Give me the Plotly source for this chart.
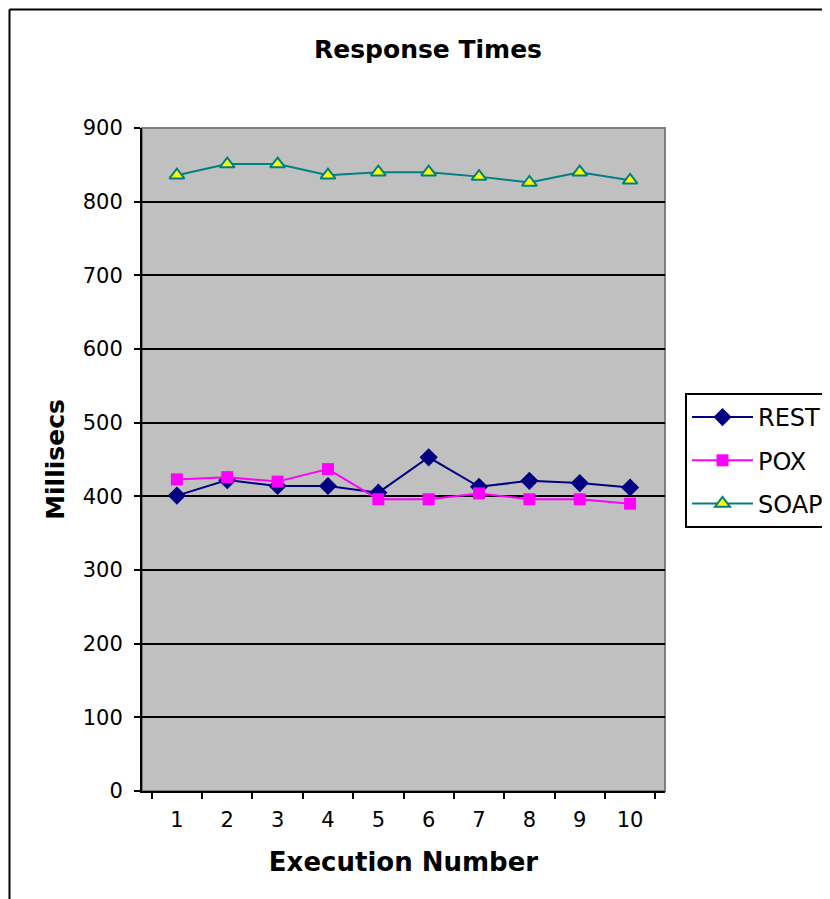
import plotly.graph_objects as go

categories = ["1", "2", "3", "4", "5", "6", "7", "8", "9", "10"]
rest = [401, 422, 414, 414, 405, 453, 413, 421, 418, 412]
pox = [423, 426, 420, 437, 396, 396, 404, 396, 396, 390]
soap = [836, 851, 851, 836, 840, 840, 834, 826, 840, 829]
y_ticks = [0, 100, 200, 300, 400, 500, 600, 700, 800, 900]

FONT = "DejaVu Sans"
OFF = 8  # browser body margin
W, H = 830, 899

fig = go.Figure()
fig.add_trace(go.Scatter(
    x=categories, y=rest, name="REST", mode="lines+markers", legendgroup="a",
    line=dict(color="#000080", width=2),
    marker=dict(symbol="diamond", size=14, color="#000080"),
))
fig.add_trace(go.Scatter(
    x=categories, y=pox, name="POX", mode="lines+markers", legendgroup="b",
    line=dict(color="#FF00FF", width=2),
    marker=dict(symbol="square", size=12, color="#FF00FF"),
))
fig.add_trace(go.Scatter(
    x=categories, y=soap, name="SOAP", mode="lines+markers", legendgroup="c",
    line=dict(color="#008080", width=2),
    marker=dict(symbol="triangle-up", size=13, color="#FFFF00",
                line=dict(color="#008080", width=2)),
))

px0, px1, py0, py1 = 142, 665, 128, 791  # plot area in page pixels
pw, ph = px1 - px0, py1 - py0
BX, BY = 9.5, 9.5  # outer frame position (page pixels), kept inside the figure div

fig.update_layout(
    width=W, height=H,
    margin=dict(l=px0 - OFF, r=W + OFF - px1, t=py0 - OFF, b=H + OFF - py1),
    paper_bgcolor="white",
    plot_bgcolor="#C0C0C0",
    font=dict(family=FONT, color="black", size=21),
    title=dict(text="<b>Response Times</b>", x=(428 - OFF) / W, xanchor="center",
               y=1 - (49 - OFF) / H, yanchor="middle", font=dict(size=25, family=FONT)),
    showlegend=True,
    legend=dict(xref="container", yref="container",
                x=(685 - OFF) / W, xanchor="left", y=1 - (393 - OFF) / H, yanchor="top",
                bordercolor="black", borderwidth=2, bgcolor="white",
                font=dict(size=24, family=FONT), tracegroupgap=9,
                itemwidth=61),
    xaxis=dict(
        type="category", tickson="boundaries", ticks="outside", ticklen=6,
        tickcolor="black", tickwidth=1.5, showgrid=False,
        showline=True, linecolor="black", linewidth=2,
        title=dict(text="<b>Execution Number</b>", font=dict(size=26, family=FONT), standoff=22),
        tickfont=dict(size=21), ticklabelstandoff=9,
    ),
    yaxis=dict(
        range=[0, 900], tickvals=y_ticks, ticks="outside", ticklen=6,
        tickcolor="black", tickwidth=1.5,
        showgrid=True, gridcolor="black", gridwidth=1.5,
        showline=True, linecolor="black", linewidth=2, zeroline=False,
        title=dict(text="<b>Millisecs</b>", font=dict(size=25, family=FONT), standoff=11),
        tickfont=dict(size=21), ticklabelstandoff=7,
    ),
    shapes=[
        dict(type="rect", xref="paper", yref="paper", x0=0, x1=1, y0=0, y1=1,
             line=dict(color="#808080", width=2), layer="below"),
        dict(type="line", xref="paper", yref="paper",
             x0=(BX - px0) / pw, x1=(BX - px0) / pw,
             y0=(py1 - BY) / ph, y1=(py1 - 905) / ph,
             line=dict(color="black", width=2)),
        dict(type="line", xref="paper", yref="paper",
             x0=(BX - px0) / pw, x1=(835 - px0) / pw,
             y0=(py1 - BY) / ph, y1=(py1 - BY) / ph,
             line=dict(color="black", width=2)),
    ],
)

fig.write_html("out.html")
